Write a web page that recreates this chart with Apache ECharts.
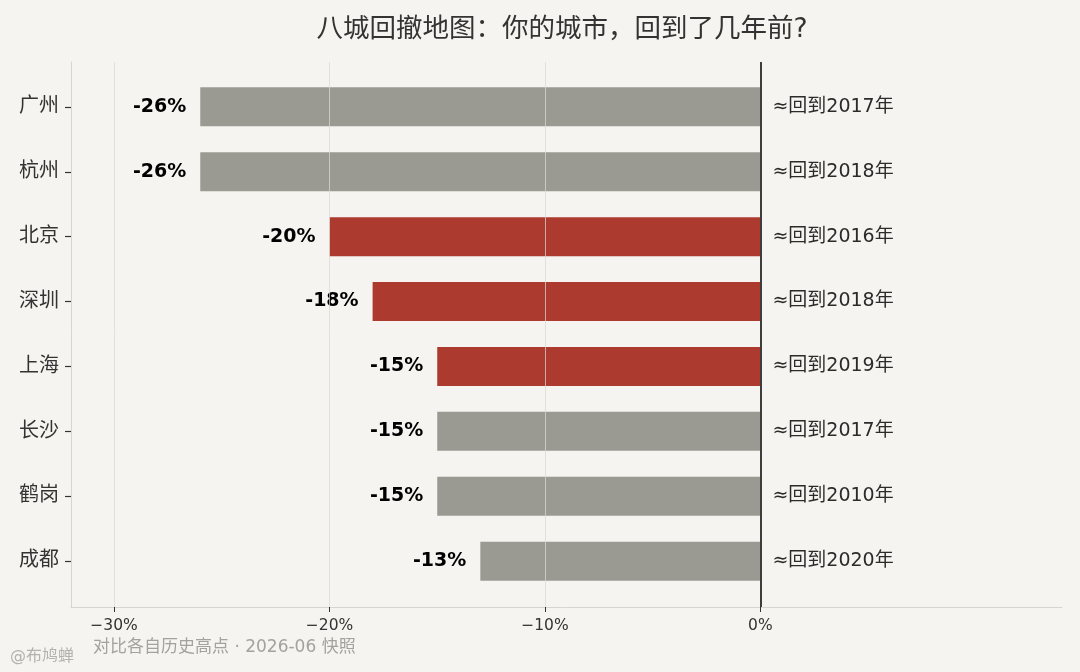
<!DOCTYPE html>
<html>
<head>
<meta charset="utf-8">
<script src="https://cdn.jsdelivr.net/npm/echarts@6/dist/echarts.min.js"></script>
<style>
  html, body { margin: 0; padding: 0; background: #f5f4f0; }
  #chart { width: 1080px; height: 672px; }
</style>
</head>
<body>
<div id="chart"></div>
<script>
const cities = ['广州', '杭州', '北京', '深圳', '上海', '长沙', '鹤岗', '成都']
const drawdowns = [-26, -26, -20, -18, -15, -15, -15, -13]   // % from peak
const backToYear = [2017, 2018, 2016, 2018, 2019, 2017, 2010, 2020]
const highlighted = ['北京', '深圳', '上海']
const xTicks = [-30, -20, -10, 0]

const RED = '#ad3a2f'
const GRAY = '#9b9a92'
const FONT = "'DejaVu Sans', 'Noto Sans CJK SC', sans-serif"

const chart = echarts.init(document.getElementById('chart'), null, { renderer: 'canvas' })

chart.setOption({
  backgroundColor: '#f5f4f0',
  animation: false,
  textStyle: { fontFamily: FONT },
  graphic: [
    {
      type: 'text', x: 562, y: 30,
      style: {
        text: '八城回撤地图：你的城市，回到了几年前?',
        font: "26.5px 'DejaVu Sans', 'Noto Sans CJK SC'", fill: '#333',
        align: 'center', verticalAlign: 'middle'
      }
    },
    {
      type: 'text', x: 93, y: 648,
      style: {
        text: '对比各自历史高点 · 2026-06 快照',
        font: "17px 'DejaVu Sans', 'Noto Sans CJK SC'", fill: '#a3a29d',
        align: 'left', verticalAlign: 'middle'
      }
    },
    {
      type: 'text', x: 10, y: 657,
      style: {
        text: '@布鸠蝉',
        font: "16px 'DejaVu Sans', 'Noto Sans CJK SC'", fill: '#b3b2ad',
        align: 'left', verticalAlign: 'middle'
      }
    }
  ],
  grid: [
    // frame: axis lines, x ticks, gridlines
    { left: 71, right: 18, top: 62, bottom: 65 },
    // bars, with matplotlib-like margins around the categories
    { left: 71, right: 18, top: 74.4, bottom: 78.4 }
  ],
  xAxis: [
    {
      type: 'value', gridIndex: 0, min: -32, max: 14,
      axisLine: { show: true, onZero: false, lineStyle: { color: '#d6d5d0', width: 1 } },
      axisTick: { show: true, customValues: xTicks, length: 5, lineStyle: { color: '#333' } },
      axisLabel: {
        customValues: xTicks, margin: 11, color: '#333', fontSize: 15.5, fontFamily: FONT,
        formatter: v => (v === 0 ? '0%' : '\u2212' + Math.abs(v) + '%')
      },
      splitLine: { show: false }
    },
    { type: 'value', gridIndex: 1, min: -32, max: 14, show: false }
  ],
  yAxis: [
    {
      type: 'value', gridIndex: 0, min: 0, max: 1,
      axisLine: { show: true, onZero: false, lineStyle: { color: '#d6d5d0', width: 1 } },
      axisTick: { show: false }, axisLabel: { show: false }, splitLine: { show: false }
    },
    {
      type: 'category', gridIndex: 1, data: cities, inverse: true,
      axisLine: { show: true, onZero: false, lineStyle: { color: 'rgba(0,0,0,0)' } },
      axisTick: { show: true, alignWithLabel: true, length: 6, lineStyle: { color: '#333', width: 1.2 } },
      axisLabel: { color: '#333', fontSize: 20, margin: 12, fontFamily: FONT }
    }
  ],
  series: [
    {
      type: 'bar', xAxisIndex: 1, yAxisIndex: 1, barWidth: 39, z: 2,
      data: drawdowns.map((v, i) => ({
        value: v,
        itemStyle: { color: highlighted.includes(cities[i]) ? RED : GRAY }
      }))
    },
    {
      // drawdown labels left of the bar ends
      type: 'scatter', xAxisIndex: 1, yAxisIndex: 1, symbolSize: 0, silent: true, z: 4,
      itemStyle: { opacity: 1 },
      data: drawdowns.map((v, i) => [v, i]),
      label: {
        show: true, position: 'left', distance: 14,
        color: '#000', fontSize: 19, fontWeight: 'bold', fontFamily: FONT,
        formatter: p => p.value[0] + '%'
      }
    },
    {
      // "back to year" labels right of zero line
      type: 'scatter', xAxisIndex: 1, yAxisIndex: 1, symbolSize: 0, silent: true, z: 4,
      itemStyle: { opacity: 1 },
      data: cities.map((c, i) => [0, i]),
      label: {
        show: true, position: 'right', distance: 12,
        color: '#2b2b2b', fontSize: 19, fontFamily: FONT,
        formatter: p => '≈回到' + backToYear[p.dataIndex] + '年'
      }
    },
    {
      // gridlines drawn over bars + zero line
      type: 'line', xAxisIndex: 0, yAxisIndex: 0, data: [], z: 3,
      markLine: {
        silent: true, symbol: 'none', label: { show: false }, animation: false,
        lineStyle: { color: 'rgba(217,216,212,0.72)', width: 1, type: 'solid' },
        data: [
          { xAxis: -30 }, { xAxis: -20 }, { xAxis: -10 },
          { xAxis: 0, lineStyle: { color: '#3d3d3d', width: 2, type: 'solid' } }
        ]
      }
    }
  ]
})
</script>
</body>
</html>
